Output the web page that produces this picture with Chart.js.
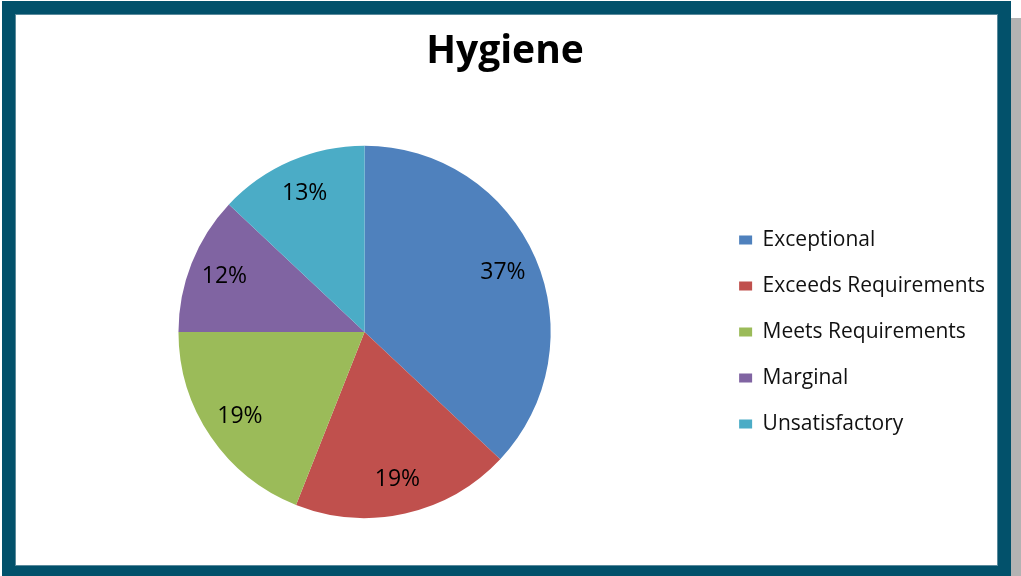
<!DOCTYPE html>
<html>
<head>
<meta charset="utf-8">
<script src="https://cdn.jsdelivr.net/npm/chart.js@4/dist/chart.umd.min.js"></script>
<style>
  html, body { margin: 0; padding: 0; background: #fff; }
  body { width: 1021px; height: 576px; position: relative; overflow: hidden; }
  #shadow { position: absolute; left: 1011px; top: 18px; width: 10px; height: 558px; background: #b3b3b3; }
  #frame { position: absolute; left: 2px; top: 1px; width: 1009px; height: 578px; box-sizing: border-box;
           border: 13px solid #02516b; background: #fff; box-shadow: inset 0 0 0 1px #5a8a9c; }
  #myChart { position: absolute; left: 0; top: 0; }
</style>
</head>
<body>
<div id="shadow"></div>
<div id="frame"><canvas id="myChart" width="983" height="552"></canvas></div>
<script>
var labels = ["Exceptional", "Exceeds Requirements", "Meets Requirements", "Marginal", "Unsatisfactory"];
var values = [37, 19, 19, 12, 13];
var colors = ["#4f81bd", "#c0504d", "#9bbb59", "#8064a2", "#4bacc6"];

// percentages drawn inside each slice
var sliceLabels = {
    id: 'sliceLabels',
    afterDatasetsDraw: function(chart) {
        var c = chart.ctx;
        var meta = chart.getDatasetMeta(0);
        var total = values.reduce(function(a, b) { return a + b; }, 0);
        c.save();
        c.font = '23px "Open Sans"';
        c.fillStyle = '#000';
        c.textAlign = 'center';
        c.textBaseline = 'middle';
        meta.data.forEach(function(arc, i) {
            var p = arc.getProps(['x', 'y', 'startAngle', 'endAngle', 'outerRadius']);
            var a = (p.startAngle + p.endAngle) / 2;
            var r = p.outerRadius * 0.81;
            c.fillText(Math.round(values[i] / total * 100) + '%', p.x + Math.cos(a) * r, p.y + Math.sin(a) * r);
        });
        c.restore();
    }
};

var ctx = document.getElementById("myChart");
var myPieChart = new Chart(ctx, {
    type: 'pie',
    data: {
        labels: labels,
        datasets: [{
            backgroundColor: colors,
            hoverBackgroundColor: colors,
            borderWidth: 0,
            hoverOffset: 0,
            data: values
        }]
    },
    plugins: [sliceLabels],
    options: {
        responsive: false,
        animation: false,
        layout: {
            padding: { left: 0, right: 3, top: 0, bottom: 48 }
        },
        plugins: {
            title: {
                display: true,
                text: 'Hygiene',
                color: '#000',
                font: { family: 'Open Sans', size: 39, weight: 'bold' },
                padding: { top: 14, bottom: 71 }
            },
            legend: {
                position: 'right',
                fullSize: false,
                labels: {
                    boxWidth: 13,
                    boxHeight: 9,
                    padding: 25,
                    color: '#111',
                    font: { family: 'Open Sans', size: 21 }
                }
            },
            tooltip: { enabled: false }
        }
    }
});
</script>
</body>
</html>
